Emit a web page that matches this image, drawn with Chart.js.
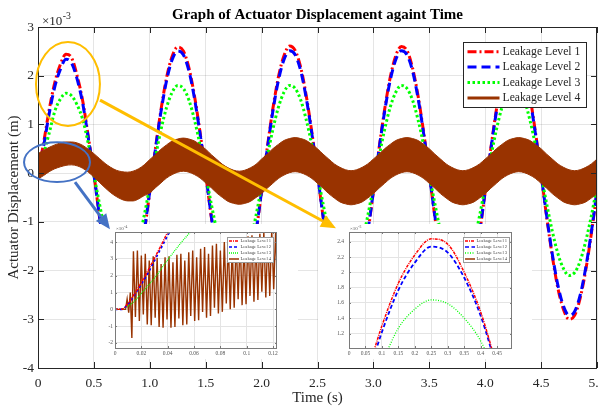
<!DOCTYPE html>
<html>
<head>
<meta charset="utf-8">
<script src="https://cdn.jsdelivr.net/npm/chart.js@4.4.1/dist/chart.umd.min.js"></script>
<style>
html, body { margin: 0; padding: 0; background: #fff; }
#wrap { position: relative; width: 599px; height: 409px; }
#wrap canvas { position: absolute; }
#main { left: 0; top: 0; }
#ins1 { left: 96px; top: 224px; background: #fff; }
#ins2 { left: 318px; top: 224px; background: #fff; }
#over { left: 0; top: 0; pointer-events: none; }
</style>
</head>
<body>
<div id="wrap">
  <canvas id="main" width="599" height="409"></canvas>
  <canvas id="ins1" width="202" height="135"></canvas>
  <canvas id="ins2" width="214" height="135"></canvas>
  <canvas id="over" width="599" height="409"></canvas>
</div>
<script>
// main plot: time (s) and displacement (x10^-3 m)
const timeS = [0, 0.05, 0.1, 0.15, 0.2, 0.25, 0.3, 0.35, 0.4, 0.45, 0.5, 0.55, 0.6, 0.65, 0.7, 0.75, 0.8, 0.85, 0.9, 0.95,
  1, 1.05, 1.1, 1.15, 1.2, 1.25, 1.3, 1.35, 1.4, 1.45, 1.5, 1.55, 1.6, 1.65, 1.7, 1.75, 1.8, 1.85, 1.9, 1.95,
  2, 2.05, 2.1, 2.15, 2.2, 2.25, 2.3, 2.35, 2.4, 2.45, 2.5, 2.55, 2.6, 2.65, 2.7, 2.75, 2.8, 2.85, 2.9, 2.95,
  3, 3.05, 3.1, 3.15, 3.2, 3.25, 3.3, 3.35, 3.4, 3.45, 3.5, 3.55, 3.6, 3.65, 3.7, 3.75, 3.8, 3.85, 3.9, 3.95,
  4, 4.05, 4.1, 4.15, 4.2, 4.25, 4.3, 4.35, 4.4, 4.45, 4.5, 4.55, 4.6, 4.65, 4.7, 4.75, 4.8, 4.85, 4.9, 4.95, 5];

const level1 = [0, 0.62, 1.30, 1.86, 2.23, 2.44, 2.37, 2.00, 1.48, 0.75, -0.02, -0.90, -1.70, -2.36, -2.80, -2.99, -2.91, -2.56, -1.98, -1.23,
  -0.38, 0.50, 1.30, 1.96, 2.40, 2.59, 2.51, 2.16, 1.58, 0.83, -0.02, -0.90, -1.70, -2.36, -2.80, -2.99, -2.91, -2.56, -1.98, -1.23,
  -0.38, 0.51, 1.31, 1.97, 2.41, 2.61, 2.52, 2.17, 1.58, 0.83, -0.02, -0.90, -1.70, -2.36, -2.80, -2.99, -2.91, -2.56, -1.98, -1.23,
  -0.38, 0.50, 1.30, 1.96, 2.41, 2.60, 2.52, 2.16, 1.58, 0.83, -0.02, -0.90, -1.70, -2.36, -2.80, -2.99, -2.91, -2.56, -1.98, -1.23,
  -0.38, 0.50, 1.30, 1.96, 2.40, 2.59, 2.51, 2.16, 1.58, 0.83, -0.02, -0.90, -1.70, -2.36, -2.80, -3.00, -2.92, -2.56, -1.98, -1.23, -0.38];

const level2 = [0, 0.55, 1.22, 1.77, 2.13, 2.34, 2.26, 1.93, 1.43, 0.72, -0.03, -0.88, -1.66, -2.30, -2.73, -2.91, -2.83, -2.50, -1.93, -1.20,
  -0.37, 0.48, 1.26, 1.90, 2.33, 2.51, 2.43, 2.10, 1.53, 0.80, -0.03, -0.88, -1.66, -2.30, -2.73, -2.91, -2.83, -2.50, -1.93, -1.20,
  -0.37, 0.48, 1.26, 1.90, 2.33, 2.51, 2.43, 2.10, 1.53, 0.80, -0.03, -0.88, -1.66, -2.30, -2.73, -2.91, -2.83, -2.50, -1.93, -1.20,
  -0.37, 0.48, 1.26, 1.90, 2.33, 2.51, 2.43, 2.10, 1.53, 0.80, -0.03, -0.88, -1.66, -2.30, -2.73, -2.91, -2.83, -2.50, -1.93, -1.20,
  -0.37, 0.48, 1.26, 1.90, 2.33, 2.51, 2.43, 2.10, 1.53, 0.80, -0.03, -0.88, -1.66, -2.30, -2.73, -2.92, -2.84, -2.50, -1.93, -1.20, -0.37];

const level3 = [0, 0.40, 0.82, 1.27, 1.52, 1.64, 1.59, 1.40, 1.10, 0.60, -0.03, -0.63, -1.19, -1.65, -1.96, -2.10, -2.04, -1.80, -1.39, -0.87,
  -0.27, 0.33, 0.89, 1.35, 1.66, 1.80, 1.74, 1.50, 1.09, 0.57, -0.03, -0.63, -1.19, -1.65, -1.96, -2.10, -2.04, -1.80, -1.39, -0.87,
  -0.27, 0.33, 0.89, 1.35, 1.66, 1.80, 1.74, 1.50, 1.09, 0.57, -0.03, -0.63, -1.19, -1.65, -1.96, -2.10, -2.04, -1.80, -1.39, -0.87,
  -0.27, 0.33, 0.89, 1.35, 1.66, 1.80, 1.74, 1.50, 1.09, 0.57, -0.03, -0.63, -1.19, -1.65, -1.96, -2.10, -2.04, -1.80, -1.39, -0.87,
  -0.27, 0.33, 0.89, 1.35, 1.66, 1.80, 1.74, 1.50, 1.09, 0.57, -0.03, -0.63, -1.19, -1.65, -1.96, -2.10, -2.04, -1.80, -1.39, -0.87, -0.27];

// level 4 oscillates too fast to resolve: upper and lower envelope of the band
const level4Top = [0.40, 0.47, 0.53, 0.58, 0.62, 0.64, 0.64, 0.62, 0.57, 0.49, 0.40, 0.30, 0.20, 0.12, 0.06, 0.03, 0.02, 0.04, 0.09, 0.17,
  0.28, 0.38, 0.49, 0.58, 0.66, 0.70, 0.72, 0.70, 0.66, 0.58, 0.49, 0.38, 0.28, 0.18, 0.11, 0.06, 0.04, 0.06, 0.11, 0.18,
  0.29, 0.39, 0.50, 0.59, 0.67, 0.71, 0.73, 0.71, 0.67, 0.59, 0.50, 0.39, 0.29, 0.19, 0.12, 0.07, 0.05, 0.07, 0.12, 0.19,
  0.29, 0.39, 0.50, 0.59, 0.67, 0.71, 0.73, 0.71, 0.67, 0.59, 0.50, 0.39, 0.29, 0.19, 0.12, 0.07, 0.05, 0.07, 0.12, 0.19,
  0.29, 0.39, 0.50, 0.59, 0.67, 0.71, 0.73, 0.71, 0.67, 0.59, 0.50, 0.39, 0.29, 0.19, 0.12, 0.07, 0.05, 0.07, 0.12, 0.19, 0.29];
const level4Bottom = [-0.12, -0.05, 0.03, 0.09, 0.13, 0.16, 0.17, 0.15, 0.10, 0.02, -0.08, -0.19, -0.30, -0.40, -0.48, -0.54, -0.57, -0.57, -0.53, -0.46,
  -0.41, -0.30, -0.20, -0.10, -0.03, 0.02, 0.04, 0.02, -0.03, -0.10, -0.20, -0.30, -0.41, -0.50, -0.58, -0.62, -0.64, -0.62, -0.58, -0.50,
  -0.42, -0.31, -0.21, -0.11, -0.04, 0.01, 0.03, 0.01, -0.04, -0.11, -0.21, -0.31, -0.42, -0.51, -0.59, -0.63, -0.65, -0.63, -0.59, -0.51,
  -0.42, -0.31, -0.21, -0.11, -0.04, 0.01, 0.03, 0.01, -0.04, -0.11, -0.21, -0.31, -0.42, -0.51, -0.59, -0.63, -0.65, -0.63, -0.59, -0.51,
  -0.42, -0.31, -0.21, -0.11, -0.04, 0.01, 0.03, 0.01, -0.04, -0.11, -0.21, -0.31, -0.42, -0.51, -0.59, -0.63, -0.65, -0.63, -0.59, -0.51, -0.42];

// inset 1: start-up, displacement in x10^-4 m
const ins1T = [0, 0.005, 0.01, 0.015, 0.02, 0.025, 0.03, 0.035, 0.04, 0.045, 0.05, 0.055, 0.06];
const ins1Red = [0, 0, 0.37, 0.95, 1.6, 2.3, 3.05, 3.8, 4.6, 5.3, 6.0, 6.7, 7.4];
const ins1Blue = [0, 0, 0.32, 0.88, 1.5, 2.15, 2.9, 3.65, 4.4, 5.1, 5.8, 6.5, 7.2];
const ins1Green = [0, 0, 0.2, 0.5, 0.95, 1.4, 1.85, 2.4, 2.95, 3.45, 3.95, 4.4, 4.85];
const ins1BrownT = [0, 0.008, 0.0092, 0.0104, 0.0116, 0.0128,
  0.0140, 0.0155, 0.0170, 0.0185, 0.0200, 0.0215, 0.0230, 0.0245, 0.0260, 0.0275, 0.0290, 0.0305, 0.0320, 0.0335,
  0.0350, 0.0365, 0.0380, 0.0395, 0.0410, 0.0425, 0.0440, 0.0455, 0.0470, 0.0485, 0.0500, 0.0515, 0.0530, 0.0545,
  0.0560, 0.0575, 0.0590, 0.0605, 0.0620, 0.0635, 0.0650, 0.0665, 0.0680, 0.0695, 0.0710, 0.0725, 0.0740, 0.0755,
  0.0770, 0.0785, 0.0800, 0.0815, 0.0830, 0.0845, 0.0860, 0.0875, 0.0890, 0.0905, 0.0920, 0.0935, 0.0950, 0.0965,
  0.0980, 0.0995, 0.1010, 0.1025, 0.1040, 0.1055, 0.1070, 0.1085, 0.1100, 0.1115, 0.1130, 0.1145, 0.1160, 0.1175,
  0.1190, 0.1205, 0.1220, 0.1235];
const ins1BrownY = [0, 0, 0.6, -0.2, 1.0, -1.7,
  3.45, -0.45, 3.5, -0.7, 3.2, -0.3, 3.3, -0.9, 2.9, -0.95, 3.15, -0.5, 3.05, -1.05,
  2.7, -1.1, 3.1, -0.6, 3.15, -1.1, 2.8, -1.05, 3.25, -0.55, 3.3, -0.95, 2.9, -0.9,
  3.4, -0.4, 3.5, -0.7, 3.1, -0.65, 3.6, -0.15, 3.7, -0.5, 3.3, -0.4, 3.8, 0.1,
  3.9, -0.25, 3.5, -0.15, 4.0, 0.35, 4.05, 0.0, 3.7, 0.1, 4.2, 0.6, 4.25, 0.25,
  3.9, 0.3, 4.35, 0.8, 4.4, 0.45, 4.1, 0.55, 4.5, 1.05, 4.6, 0.7, 4.3, 0.8,
  4.7, 1.2, 4.7, 0.95];

// inset 2 zooms on the first peak: first 11 samples of the main series
const INS2_N = 11;

const SERIF = '"Liberation Serif", "Times New Roman", serif';
const INK = '#262626';
const RED = 'rgb(255,0,0)', BLUE = 'rgb(0,0,255)', GREEN = 'rgb(0,255,0)', BROWN = 'rgb(153,51,0)';

const pts = (xs, ys) => ys.map((y, i) => ({ x: xs[i], y }));
const shortNum = v => String(Math.round(v * 1000) / 1000);

// MATLAB look: boxed axes, inward ticks, in-axes legend, x10^n label
const matlabAxes = {
  id: 'matlabAxes',
  afterDatasetsDraw(chart, args, o) {
    const { ctx, chartArea: a, scales: { x, y } } = chart;
    ctx.save();
    ctx.strokeStyle = o.color; ctx.lineWidth = o.width;
    ctx.beginPath();
    x.ticks.forEach(t => {
      const p = Math.round(x.getPixelForValue(t.value)) + 0.5;
      ctx.moveTo(p, a.bottom); ctx.lineTo(p, a.bottom - o.tick);
      ctx.moveTo(p, a.top); ctx.lineTo(p, a.top + o.tick);
    });
    y.ticks.forEach(t => {
      const p = Math.round(y.getPixelForValue(t.value)) + 0.5;
      ctx.moveTo(a.left, p); ctx.lineTo(a.left + o.tick, p);
      ctx.moveTo(a.right, p); ctx.lineTo(a.right - o.tick, p);
    });
    ctx.stroke();
    ctx.strokeRect(Math.round(a.left) + 0.5, Math.round(a.top) + 0.5, Math.round(a.right - a.left) - 1, Math.round(a.bottom - a.top));
    ctx.restore();
  },
  afterDraw(chart, args, o) {
    const { ctx, chartArea: a } = chart;
    ctx.save();
    ctx.fillStyle = o.textColor; ctx.textAlign = 'left'; ctx.textBaseline = 'alphabetic';
    ctx.font = `${o.expSize}px ${SERIF}`;
    const bx = a.left + o.expDx, by = a.top - o.expDy;
    ctx.fillText('\u00d710', bx, by);
    const w = ctx.measureText('\u00d710').width;
    ctx.font = `${o.expSize * 0.75}px ${SERIF}`;
    ctx.fillText(o.exp, bx + w + 0.5, by - o.expSize * 0.5);

    const L = o.legend;
    const items = chart.data.datasets.filter(d => d.label);
    const x0 = Math.round(a.right - L.right - L.w) + 0.5, y0 = Math.round(a.top + L.top) + 0.5;
    ctx.fillStyle = '#fff'; ctx.fillRect(x0, y0, L.w, L.h);
    ctx.strokeStyle = L.border; ctx.lineWidth = 1; ctx.strokeRect(x0, y0, L.w, L.h);
    ctx.font = `${L.size}px ${SERIF}`; ctx.textBaseline = 'middle';
    items.forEach((d, i) => {
      const yy = y0 + L.pad + L.row * (i + 0.5);
      ctx.strokeStyle = d.borderColor; ctx.lineWidth = L.lineW;
      ctx.setLineDash(d.legendDash || d.borderDash || []);
      ctx.beginPath(); ctx.moveTo(x0 + L.inset, yy); ctx.lineTo(x0 + L.inset + L.sample, yy); ctx.stroke();
      ctx.setLineDash([]);
      ctx.fillStyle = L.color;
      ctx.fillText(d.label, x0 + L.inset + L.sample + L.gap, yy);
    });
    ctx.restore();
  }
};

const mainChart = new Chart(document.getElementById('main'), {
  type: 'line',
  data: {
    datasets: [
      { label: 'Leakage Level 1', data: pts(timeS, level1), borderColor: RED, borderWidth: 3, borderDash: [9, 3, 2, 3], order: 3 },
      { label: 'Leakage Level 2', data: pts(timeS, level2), borderColor: BLUE, borderWidth: 3, borderDash: [9, 5], order: 2 },
      { label: 'Leakage Level 3', data: pts(timeS, level3), borderColor: GREEN, borderWidth: 3, borderDash: [2.5, 2.5], order: 1 },
      { label: 'Leakage Level 4', data: pts(timeS, level4Top), borderColor: BROWN, borderWidth: 1, order: 0 },
      { data: pts(timeS, level4Bottom), borderColor: BROWN, borderWidth: 1, backgroundColor: BROWN, fill: '-1', order: 0 }
    ]
  },
  options: {
    responsive: false, animation: false,
    elements: { point: { radius: 0 }, line: { cubicInterpolationMode: 'monotone' } },
    layout: { padding: { top: 0, right: 2, bottom: 0, left: 0 } },
    scales: {
      x: {
        type: 'linear', min: 0, max: 5,
        afterFit: s => { s.height = 41; s.paddingLeft = 0; s.paddingRight = 0; },
        ticks: { stepSize: 0.5, maxRotation: 0, autoSkip: false, padding: 7, color: INK, font: { family: SERIF, size: 13.5 } },
        grid: { color: 'rgba(0,0,0,0.1)', drawTicks: false },
        border: { display: false },
        title: { display: true, text: 'Time (s)', color: INK, font: { family: SERIF, size: 15 }, padding: { top: 0, bottom: 2 } }
      },
      y: {
        min: -4, max: 3,
        afterFit: s => { s.width = 38; s.paddingTop = 0; s.paddingBottom = 0; },
        ticks: { stepSize: 1, padding: 4, color: INK, font: { family: SERIF, size: 13.5 } },
        grid: { color: 'rgba(0,0,0,0.1)', drawTicks: false },
        border: { display: false },
        title: { display: true, text: 'Actuator Displacement (m)', color: INK, font: { family: SERIF, size: 15 }, padding: { top: 5, bottom: 0 } }
      }
    },
    plugins: {
      legend: { display: false },
      tooltip: { enabled: false },
      title: {
        display: true, fullSize: false, text: 'Graph of Actuator Displacement againt Time', color: '#000',
        font: { family: SERIF, size: 15, weight: 'bold' }, padding: { top: 6, bottom: 3 }
      },
      matlabAxes: {
        color: INK, width: 1, tick: 6, textColor: INK, exp: '-3', expSize: 13, expDx: 4, expDy: 2,
        legend: { right: 11, top: 15, w: 123, h: 65, pad: 1.5, row: 15.4, inset: 4, sample: 32, gap: 3, lineW: 3, size: 11.7, color: INK, border: INK }
      }
    }
  },
  plugins: [matlabAxes]
});

function insetChart(id, datasets, xr, yr, box) {
  const small = { family: SERIF, size: 5.5 };
  return new Chart(document.getElementById(id), {
    type: 'line',
    data: { datasets },
    options: {
      responsive: false, animation: false,
      elements: { point: { radius: 0 }, line: { cubicInterpolationMode: 'monotone' } },
      layout: { padding: { top: 8, right: box.right, bottom: 0, left: 0 } },
      scales: {
        x: {
          type: 'linear', min: xr[0], max: xr[1],
          afterFit: s => { s.height = 11; s.paddingLeft = 0; s.paddingRight = 0; },
          ticks: { stepSize: xr[2], includeBounds: false, maxRotation: 0, autoSkip: false, padding: 2, color: '#555', font: small, callback: shortNum },
          grid: { color: '#e4e4e4', drawTicks: false }, border: { display: false }
        },
        y: {
          min: yr[0], max: yr[1],
          afterFit: s => { s.width = box.left; s.paddingTop = 0; s.paddingBottom = 0; },
          ticks: { stepSize: yr[2], includeBounds: false, padding: box.tickPad, color: '#555', font: small, callback: shortNum },
          grid: { color: '#e4e4e4', drawTicks: false }, border: { display: false }
        }
      },
      plugins: {
        legend: { display: false }, tooltip: { enabled: false },
        matlabAxes: {
          color: '#7a7a7a', width: 1, tick: 2, textColor: '#555', exp: box.exp, expSize: 5, expDx: 1, expDy: 2,
          legend: { right: box.legRight, top: 5, w: 46, h: 25, pad: 0.5, row: 6, inset: 1.5, sample: 10, gap: 1.5, lineW: 1.5, size: 4.6, color: '#444', border: '#999' }
        }
      }
    },
    plugins: [matlabAxes]
  });
}

insetChart('ins1', [
  { label: 'Leakage Level 1', data: pts(ins1T, ins1Red), borderColor: RED, borderWidth: 1.5, borderDash: [3, 1, 1, 1], order: 1 },
  { label: 'Leakage Level 2', data: pts(ins1T, ins1Blue), borderColor: BLUE, borderWidth: 1.8, borderDash: [2.5, 2.5], legendDash: [3, 2], order: 1 },
  { label: 'Leakage Level 3', data: pts(ins1T, ins1Green), borderColor: GREEN, borderWidth: 1.2, borderDash: [1, 1], order: 1 },
  { label: 'Leakage Level 4', data: pts(ins1BrownT, ins1BrownY), borderColor: BROWN, borderWidth: 1.4, tension: 0, cubicInterpolationMode: 'default', order: 2 }
], [0, 0.123, 0.02], [-2.3, 4.6, 1], { left: 19, right: 21, tickPad: 2, exp: '-4', legRight: 4 });

insetChart('ins2', [
  { label: 'Leakage Level 1', data: pts(timeS.slice(0, INS2_N), level1.slice(0, INS2_N)), borderColor: RED, borderWidth: 1.5, borderDash: [3, 1, 1, 1] },
  { label: 'Leakage Level 2', data: pts(timeS.slice(0, INS2_N), level2.slice(0, INS2_N)), borderColor: BLUE, borderWidth: 1.8, borderDash: [4, 2.5] },
  { label: 'Leakage Level 3', data: pts(timeS.slice(0, INS2_N), level3.slice(0, INS2_N)), borderColor: GREEN, borderWidth: 1.3, borderDash: [1, 1.5] },
  { label: 'Leakage Level 4', data: [], borderColor: BROWN, borderWidth: 1 }
], [0, 0.495, 0.05], [1.01, 2.53, 0.2], { left: 31, right: 20, tickPad: 5, exp: '-3', legRight: 3 });

// call-outs: rings and arrows placed in data units of the main axes
const rings = [
  { t: 0.268, v: 1.83, rt: 0.286, rv: 0.86, color: 'rgb(255,190,0)', width: 2 },
  { t: 0.17, v: 0.226, rt: 0.295, rv: 0.41, color: 'rgb(68,114,196)', width: 2 }
];
const arrows = [
  { from: [0.555, 1.5], to: [2.665, -1.13], color: 'rgb(255,190,0)', width: 3 },
  { from: [0.331, -0.185], to: [0.644, -1.15], color: 'rgb(68,114,196)', width: 3 }
];

(function drawCallouts() {
  const ctx = document.getElementById('over').getContext('2d');
  const { x, y } = mainChart.scales;
  const px = t => x.getPixelForValue(t), py = v => y.getPixelForValue(v);
  rings.forEach(r => {
    ctx.strokeStyle = r.color; ctx.lineWidth = r.width;
    ctx.beginPath();
    ctx.ellipse(px(r.t), py(r.v), px(r.t + r.rt) - px(r.t), py(r.v) - py(r.v + r.rv), 0, 0, Math.PI * 2);
    ctx.stroke();
  });
  arrows.forEach(a => {
    const x1 = px(a.from[0]), y1 = py(a.from[1]), x2 = px(a.to[0]), y2 = py(a.to[1]);
    const ang = Math.atan2(y2 - y1, x2 - x1), hl = 15, hw = 13;
    const bx = x2 - hl * Math.cos(ang), by = y2 - hl * Math.sin(ang);
    ctx.strokeStyle = a.color; ctx.lineWidth = a.width;
    ctx.beginPath(); ctx.moveTo(x1, y1); ctx.lineTo(bx, by); ctx.stroke();
    ctx.fillStyle = a.color;
    ctx.beginPath();
    ctx.moveTo(x2, y2);
    ctx.lineTo(bx + hw / 2 * Math.sin(ang), by - hw / 2 * Math.cos(ang));
    ctx.lineTo(bx - hw / 2 * Math.sin(ang), by + hw / 2 * Math.cos(ang));
    ctx.closePath(); ctx.fill();
  });
})();
</script>
</body>
</html>
